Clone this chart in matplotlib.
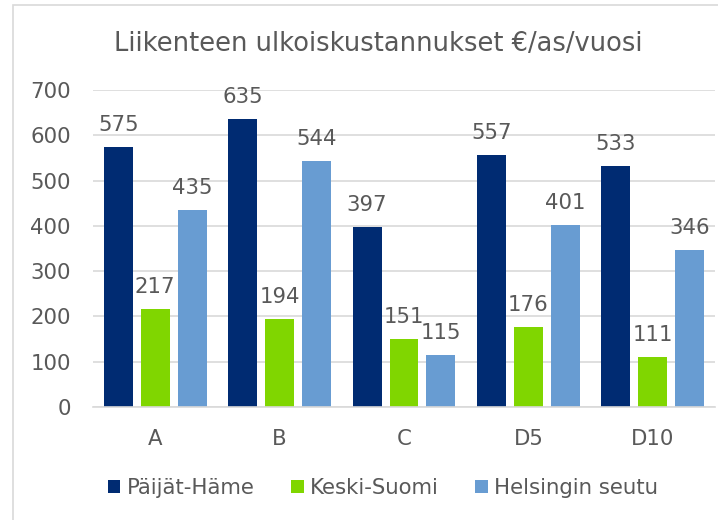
import matplotlib
matplotlib.use("Agg")
import matplotlib.pyplot as plt
import numpy as np
from matplotlib.patches import Rectangle

categories = ["A", "B", "C", "D5", "D10"]
series_names = ["Päijät-Häme", "Keski-Suomi", "Helsingin seutu"]
paijat_hame = [575, 635, 397, 557, 533]
keski_suomi = [217, 194, 151, 176, 111]
helsingin_seutu = [435, 544, 115, 401, 346]
yticks = [0, 100, 200, 300, 400, 500, 600, 700]
title = "Liikenteen ulkoiskustannukset €/as/vuosi"

colors = ["#002B72", "#80D600", "#689CD2"]
text_color = "#595959"
grid_color = "#D9D9D9"
fs = 15.3

plt.rcParams["font.family"] = ["DejaVu Sans"]

fig = plt.figure(figsize=(7.18, 5.20), dpi=100)
fig.patches.append(Rectangle((13 / 718, -0.1), 1.2, (1 - 5 / 520) + 0.1,
                             transform=fig.transFigure, fill=False,
                             edgecolor=grid_color, linewidth=1.2))

ax = fig.add_axes([93 / 718, 113 / 520, 622 / 718, 317 / 520])
x = np.arange(len(categories))
width = 0.233
step = 0.297
all_series = [paijat_hame, keski_suomi, helsingin_seutu]
for i, (vals, name, c) in enumerate(zip(all_series, series_names, colors)):
    pos = x + (i - 1) * step
    bars = ax.bar(pos, vals, width=width, color=c, label=name, zorder=3)
    for b, v in zip(bars, vals):
        ax.annotate(str(v), (b.get_x() + b.get_width() / 2, v),
                    xytext=(0, 11.5), textcoords="offset points",
                    ha="center", va="baseline", fontsize=fs,
                    color=text_color, annotation_clip=False, zorder=4)

ax.set_xlim(-0.5, len(categories) - 0.5)
ax.set_ylim(0, 700)
ax.set_yticks(yticks)
ax.set_xticks(x)
ax.set_xticklabels(categories)
ax.tick_params(axis="both", length=0, labelsize=fs, labelcolor=text_color)
ax.tick_params(axis="y", pad=16)
ax.tick_params(axis="x", pad=16)
ax.grid(axis="y", color=grid_color, linewidth=1.2, zorder=0)
for s in ["top", "right", "left"]:
    ax.spines[s].set_visible(False)
ax.spines["bottom"].set_color(grid_color)
ax.spines["bottom"].set_linewidth(1.2)
ax.spines["bottom"].set_zorder(5)

fig.text(378 / 718, 1 - 44 / 520, title, ha="center", va="center",
         fontsize=18.5, color=text_color)

leg = ax.legend(loc="center", bbox_to_anchor=(0.466, -0.255), ncol=3,
                frameon=False, fontsize=fs, handlelength=0.6,
                handleheight=0.6, handletextpad=0.3, columnspacing=1.7,
                labelcolor=text_color)

fig.savefig("out.png", dpi=100)
